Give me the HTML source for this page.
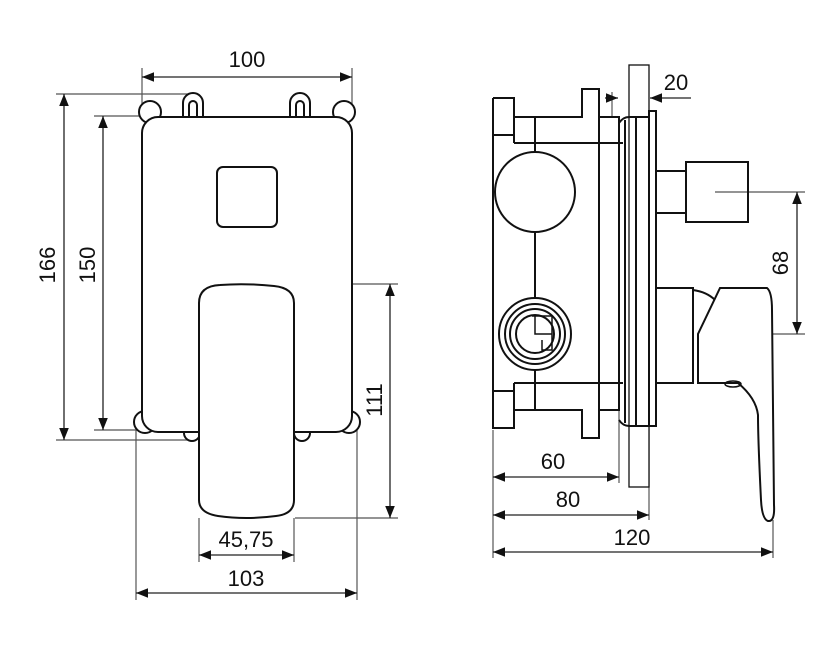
<!DOCTYPE html>
<html><head><meta charset="utf-8"><style>
html,body{margin:0;padding:0;background:#fff}
svg{display:block}
text{font-family:"Liberation Sans",sans-serif;font-size:22px;fill:#111}
</style></head><body>
<svg width="840" height="659" viewBox="0 0 840 659" xmlns="http://www.w3.org/2000/svg">
<defs>
<marker id="a" viewBox="0 0 10 10" refX="10" refY="5" markerWidth="12" markerHeight="12" markerUnits="userSpaceOnUse" orient="auto-start-reverse"><path d="M0,1 L10,5 L0,9 z" fill="#111"/></marker>
</defs>
<g stroke="#555" stroke-width="1.2" fill="none">
<line x1="142" y1="68" x2="142" y2="108"/><line x1="352" y1="68" x2="352" y2="108"/>
<line x1="56" y1="94" x2="190" y2="94"/><line x1="94" y1="116" x2="145" y2="116"/>
<line x1="56" y1="440" x2="190" y2="440"/><line x1="94" y1="430" x2="145" y2="430"/>
<line x1="295" y1="284" x2="398" y2="284"/><line x1="295" y1="518" x2="398" y2="518"/>
<line x1="199" y1="518" x2="199" y2="562"/><line x1="294" y1="518" x2="294" y2="562"/>
<line x1="136" y1="420" x2="136" y2="600"/><line x1="357" y1="420" x2="357" y2="600"/>
<line x1="493" y1="430" x2="493" y2="558"/><line x1="773" y1="520" x2="773" y2="558"/>
<line x1="619" y1="410" x2="619" y2="483"/><line x1="649" y1="426" x2="649" y2="520"/>
<line x1="715" y1="192" x2="805" y2="192"/><line x1="715" y1="334" x2="805" y2="334"/>
<line x1="612" y1="92" x2="612" y2="117"/>
</g>
<g stroke="#222" stroke-width="1.3" fill="none">
<line x1="142" y1="77" x2="352" y2="77" marker-start="url(#a)" marker-end="url(#a)"/>
<line x1="64" y1="94" x2="64" y2="440" marker-start="url(#a)" marker-end="url(#a)"/>
<line x1="103" y1="116" x2="103" y2="430" marker-start="url(#a)" marker-end="url(#a)"/>
<line x1="390" y1="284" x2="390" y2="518" marker-start="url(#a)" marker-end="url(#a)"/>
<line x1="199" y1="555" x2="294" y2="555" marker-start="url(#a)" marker-end="url(#a)"/>
<line x1="136" y1="593" x2="357" y2="593" marker-start="url(#a)" marker-end="url(#a)"/>
<line x1="493" y1="477" x2="619" y2="477" marker-start="url(#a)" marker-end="url(#a)"/>
<line x1="493" y1="515" x2="649" y2="515" marker-start="url(#a)" marker-end="url(#a)"/>
<line x1="493" y1="552" x2="773" y2="552" marker-start="url(#a)" marker-end="url(#a)"/>
<line x1="797" y1="192" x2="797" y2="334" marker-start="url(#a)" marker-end="url(#a)"/>
<line x1="605" y1="98" x2="618" y2="98" marker-end="url(#a)"/>
<line x1="691" y1="98" x2="650" y2="98" marker-end="url(#a)"/>
</g>
<g>
<text x="247" y="67" text-anchor="middle">100</text>
<text x="246" y="547" text-anchor="middle">45,75</text>
<text x="246" y="586" text-anchor="middle">103</text>
<text x="553" y="469" text-anchor="middle">60</text>
<text x="568" y="507" text-anchor="middle">80</text>
<text x="632" y="545" text-anchor="middle">120</text>
<text x="676" y="90" text-anchor="middle">20</text>
<text transform="translate(55,265) rotate(-90)" text-anchor="middle">166</text>
<text transform="translate(95,265) rotate(-90)" text-anchor="middle">150</text>
<text transform="translate(382,400) rotate(-90)" text-anchor="middle">111</text>
<text transform="translate(788,263) rotate(-90)" text-anchor="middle">68</text>
</g>
<g stroke="#111" stroke-width="2" fill="#fff">
<path d="M183,117 v-14 a10,10 0 0 1 20,0 v14"/><path d="M189,117 v-12 a4,4 0 0 1 8,0 v12"/>
<path d="M290,117 v-14 a10,10 0 0 1 20,0 v14"/><path d="M296,117 v-12 a4,4 0 0 1 8,0 v12"/>
<circle cx="150" cy="112" r="11"/><circle cx="344" cy="112" r="11"/>
<circle cx="145" cy="422" r="11"/><circle cx="349" cy="422" r="11"/>
<circle cx="192" cy="433" r="8"/><circle cx="302" cy="433" r="8"/>
<rect x="142" y="117" width="210" height="315" rx="16"/>
<rect x="217" y="167" width="60" height="60" rx="6"/>
<path d="M199,303 Q199,286 220,285 Q246,283 274,286 Q294,288 294,303 L294,500 Q294,514 276,516 Q246,520 218,516 Q199,513 199,500 Z"/>
</g>
<g stroke="#111" stroke-width="2" fill="none">
<rect x="629" y="65" width="20" height="422" stroke-width="1.3" fill="#fff"/>
<path d="M493,98 h21 v19 h68 v-28 h17 v28 h21"/>
<path d="M493,98 V428 h21 v-18 h68 v28 h17 v-28 h21"/>
<line x1="493" y1="135" x2="514" y2="135"/><line x1="493" y1="391" x2="514" y2="391"/>
<line x1="514" y1="117" x2="514" y2="143"/><line x1="514" y1="143" x2="623" y2="143"/>
<line x1="514" y1="383" x2="623" y2="383"/><line x1="514" y1="383" x2="514" y2="410"/>
<line x1="535" y1="117" x2="535" y2="152"/><line x1="535" y1="232" x2="535" y2="298"/>
<line x1="535" y1="370" x2="535" y2="410"/>
<line x1="599" y1="89" x2="599" y2="438"/>
<line x1="619" y1="117" x2="619" y2="410"/>
<circle cx="535" cy="192" r="40"/>
<circle cx="535" cy="334" r="36"/><circle cx="535" cy="334" r="30"/><circle cx="535" cy="334" r="25"/><circle cx="535" cy="334" r="19"/>
<path d="M532,316 h20 v20 M535,316 v18 h17" stroke-width="1.5"/>
<path d="M542,340 v10 h10 v-14" stroke-width="1.5"/>
<path d="M619,123 q4,-6 10,-6 h20 v309 h-20 q-6,0 -10,-6"/>
<line x1="625" y1="120" x2="625" y2="423"/><line x1="636" y1="118" x2="636" y2="425"/>
<rect x="649" y="111" width="7" height="315" fill="#fff"/>
<path d="M656,171 h30 M656,213 h30"/>
<rect x="686" y="162" width="62" height="60"/>
<path d="M656,288 h37 v95 h-37"/>
<path d="M693,290 q14,2 22,10"/>
<path d="M698,383 V334 L720,288 H767 Q772,292 772,310 Q773,420 774,505 Q775,522 768,521 Q762,519 761,500 Q758,440 758,415 Q756,398 738,383 Z" fill="#fff"/>
<ellipse cx="733" cy="384" rx="8" ry="3" stroke-width="1.5"/>
</g>
</svg>
</body></html>
